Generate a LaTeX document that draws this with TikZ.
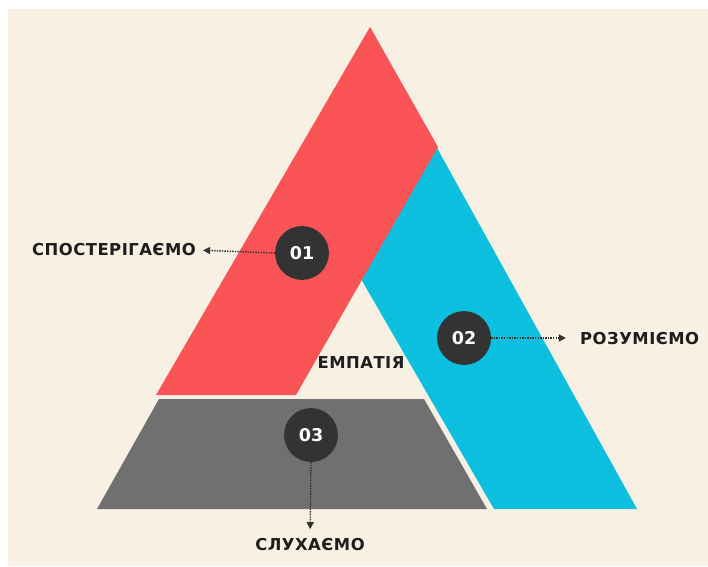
\documentclass[tikz,border=0pt]{standalone}
\usepackage{fontspec}
\setmainfont{DejaVu Sans}
\newfontfamily\labelfont[LetterSpace=3]{DejaVu Sans}
\usetikzlibrary{arrows.meta}
\definecolor{beige1}{HTML}{F7F0E3}
\definecolor{red1}{HTML}{FA5457}
\definecolor{cyan1}{HTML}{0CBFDE}
\definecolor{grey1}{HTML}{707070}
\definecolor{dark1}{HTML}{333333}
\definecolor{ink1}{HTML}{1E1E1E}
\tikzstyle{stage} = [circle, fill=dark1, text=white, minimum size=46, inner sep=0pt, font=\fontsize{15}{15}\selectfont\bfseries]
\tikzstyle{label} = [inner sep=0pt, text=ink1, font=\labelfont\fontsize{14}{16}\selectfont\bfseries]
\tikzstyle{link} = [dark1, densely dotted, line width=1.2pt, -{Triangle[length=6,width=6]}]

\begin{document}
\begin{tikzpicture}[x=0.3mm, y=-0.3mm]
	\useasboundingbox (0,0) rectangle (708,566);
	\fill [beige1] (8,9) rectangle (708,566);
	% Triangle parts
	\fill [cyan1] (370,27) -- (637,509) -- (494,509) -- (350,260) -- cycle;
	\fill [red1] (370,27) -- (438,147) -- (296,395) -- (156,395) -- cycle;
	\fill [grey1] (159,399) -- (424,399) -- (487,509) -- (97,509) -- cycle;

	\node [stage] (S01) at (302,253) {01};
	\node [stage] (S02) at (464,338) {02};
	\node [stage] (S03) at (311,435) {03};
	\node [label, anchor=east] (L01) at (196,250) {СПОСТЕРІГАЄМО};
	\node [label, anchor=west] (L02) at (580,339) {РОЗУМІЄМО};
	\node [label] (L03) at (310,545) {СЛУХАЄМО};
	\node [label] (E01) at (361,363) {ЕМПАТІЯ};

	\draw [link, shorten >=6] (S01.west) to (L01.east);
	\draw [link, shorten >=12] (S02.east) to (S02.east -| L02.west);
	\draw [link, shorten >=8] (S03.south) to (L03.north);
\end{tikzpicture}
\end{document}
